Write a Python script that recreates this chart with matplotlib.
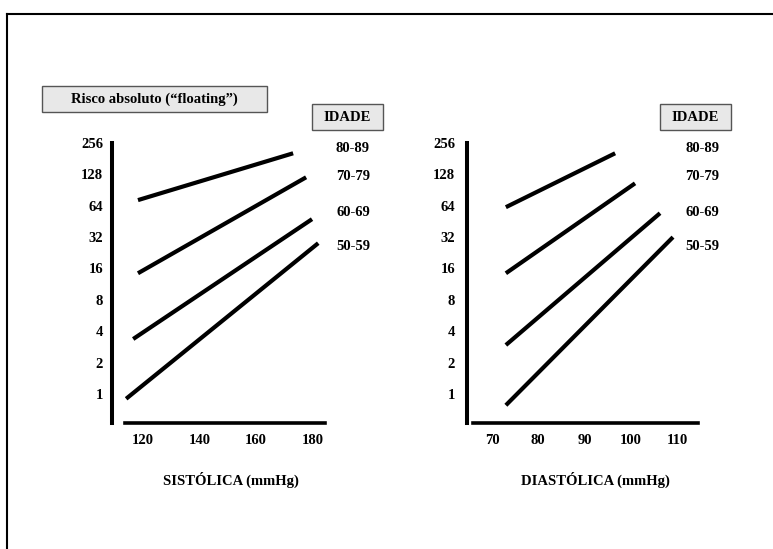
import matplotlib.pyplot as plt
from matplotlib.lines import Line2D
from matplotlib.patches import Rectangle
from matplotlib.ticker import NullLocator

plt.rcParams['font.family'] = ['Liberation Serif', 'DejaVu Serif']
plt.rcParams['font.weight'] = 'bold'

# --- data ---
AGE_GROUPS = ['80-89', '70-79', '60-69', '50-59']
RISK_TICKS = [1, 2, 4, 8, 16, 32, 64, 128, 256]

SYS_TICKS = [120, 140, 160, 180]
SYS_X = [[118.2, 173.2], [118.2, 177.8], [116.5, 179.9], [114.0, 182.1]]
SYS_RISK = [[72.5, 204], [14.4, 120], [3.37, 47.6], [0.9, 28]]

DIA_TICKS = [70, 80, 90, 100, 110]
DIA_X = [[73.0, 96.6], [73.0, 100.9], [73.0, 106.3], [73.0, 109.1]]
DIA_RISK = [[62, 204], [14.4, 105], [2.95, 54.3], [0.78, 32]]

# --- layout (pixels of the 773x549 picture) ---
W, H = 773, 549
FS = 10.5


def fx(px):
    return px / W


def fy(py):
    return 1 - py / H


def gray_box(fig, x0, y0, x1, y1):
    fig.patches.append(Rectangle((fx(x0), fy(y1)), (x1 - x0) / W, (y1 - y0) / H,
                                 transform=fig.transFigure, facecolor='#e8e8e8',
                                 edgecolor='#555555', linewidth=1.0))


def draw_panel(fig, left_px, right_px, spine_px, xlim, ticks, xs, ys,
               label, label_px, ypad):
    ax = fig.add_axes([fx(left_px), fy(423), (right_px - left_px) / W, 280 / H])
    for x, y in zip(xs, ys):
        ax.plot(x, y, color='black', linewidth=3.0, solid_capstyle='butt')

    ax.set_yscale('log', base=2)
    ax.set_ylim(2 ** (-(423 - 394) / 31.375), 256)
    ax.set_xlim(*xlim)
    ax.set_yticks(RISK_TICKS)
    ax.set_yticklabels([str(v) for v in RISK_TICKS])
    ax.yaxis.set_minor_locator(NullLocator())
    ax.set_xticks(ticks)
    ax.set_xticklabels([str(v) for v in ticks])
    ax.tick_params(axis='both', length=0, labelsize=FS)
    ax.tick_params(axis='x', pad=8)
    ax.tick_params(axis='y', pad=ypad)

    ax.spines['top'].set_visible(False)
    ax.spines['right'].set_visible(False)
    ax.spines['left'].set_position(('outward', (left_px - spine_px) * 0.72))
    ax.spines['left'].set_linewidth(2.9)
    ax.spines['bottom'].set_linewidth(2.6)
    ax.patch.set_visible(False)

    fig.text(fx(label_px), fy(480), label, ha='center', va='center', fontsize=FS)
    return ax


fig = plt.figure(figsize=(W / 100, H / 100), dpi=100)

# outer frame (only left and top edges are visible)
fig.add_artist(Line2D([fx(7), fx(7)], [fy(14), 0], color='black', linewidth=1.5,
                      transform=fig.transFigure))
fig.add_artist(Line2D([fx(7), 1], [fy(14), fy(14)], color='black', linewidth=1.5,
                      transform=fig.transFigure))

draw_panel(fig, 125, 325, 112, (113.6, 184.5), SYS_TICKS, SYS_X, SYS_RISK,
           'SISTÓLICA (mmHg)', 231, 6.5)
draw_panel(fig, 473, 698, 467, (65.9, 114.5), DIA_TICKS, DIA_X, DIA_RISK,
           'DIASTÓLICA (mmHg)', 595, 8.6)

# title box
gray_box(fig, 42, 86, 267, 112)
fig.text(fx(154), fy(99), 'Risco absoluto (\u201cfloating\u201d)', ha='center',
         va='center', fontsize=FS)

# age legends
age_y = [148, 177, 212, 246]
for box_x0, text_x in [(312, 353), (660, 702)]:
    gray_box(fig, box_x0, 104, box_x0 + 71, 130)
    fig.text(fx(box_x0 + 35.5), fy(117.5), 'IDADE', ha='center', va='center', fontsize=FS)
    for age, y in zip(AGE_GROUPS, age_y):
        fig.text(fx(text_x), fy(y), age, ha='center', va='center', fontsize=FS)

plt.savefig('out.png', dpi=100)
